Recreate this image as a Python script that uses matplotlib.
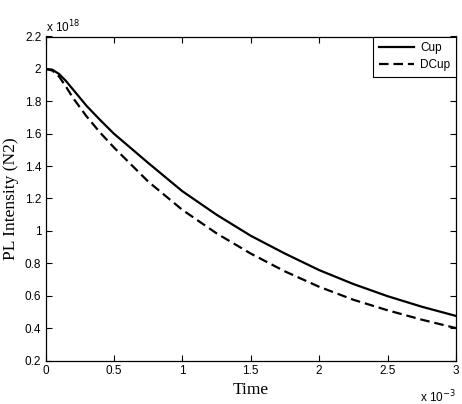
import matplotlib
matplotlib.use("Agg")
import matplotlib.pyplot as plt
from matplotlib.ticker import FuncFormatter

# Time (x 1e-3)
t_cup = [0, 0.05, 0.1, 0.15, 0.2, 0.3, 0.4, 0.5, 0.75, 1.0, 1.25, 1.5, 1.75, 2.0, 2.25, 2.5, 2.75, 3.0]
# PL Intensity (x 1e18)
cup = [2.0, 1.995, 1.968, 1.925, 1.874, 1.772, 1.684, 1.60, 1.42, 1.245, 1.10, 0.97, 0.86, 0.758, 0.672, 0.597, 0.532, 0.475]

t_dcup = [0, 0.05, 0.1, 0.15, 0.2, 0.3, 0.4, 0.5, 0.75, 1.0, 1.25, 1.5, 1.75, 2.0, 2.25, 2.5, 2.75, 3.0]
dcup = [2.0, 1.99, 1.952, 1.89, 1.822, 1.707, 1.606, 1.515, 1.305, 1.13, 0.985, 0.86, 0.75, 0.655, 0.575, 0.51, 0.452, 0.40]

xticks = [0, 0.5, 1, 1.5, 2, 2.5, 3]
yticks = [0.2, 0.4, 0.6, 0.8, 1.0, 1.2, 1.4, 1.6, 1.8, 2.0, 2.2]

W, H = 462, 404
fig = plt.figure(figsize=(W / 100, H / 100), dpi=100)
L, R, T, B = 45.5, 456, 36.5, 360.5
ax = fig.add_axes([L / W, 1 - B / H, (R - L) / W, (B - T) / H])

ax.plot(t_cup, cup, color="black", linewidth=1.6, linestyle="-", label="Cup")
ax.plot(t_dcup, dcup, color="black", linewidth=1.6, linestyle=(0, (4.3, 2.2)), label="DCup")

ax.set_xlim(0, 3)
ax.set_ylim(0.2, 2.2)
ax.set_xticks(xticks)
ax.set_yticks(yticks)

def fmt(v, pos):
    s = ("%.1f" % v)
    if s.endswith(".0"):
        s = s[:-2]
    return s

ax.xaxis.set_major_formatter(FuncFormatter(fmt))
ax.yaxis.set_major_formatter(FuncFormatter(fmt))

tickfont = "Liberation Sans"
ax.tick_params(direction="in", top=True, right=True, length=4, width=0.8,
               labelsize=8.5, pad=3)
for lab in ax.get_xticklabels() + ax.get_yticklabels():
    lab.set_fontfamily(tickfont)
for s in ax.spines.values():
    s.set_linewidth(0.9)

ax.set_xlabel("Time", fontfamily="Liberation Serif", fontsize=12.5, labelpad=4)
ax.set_ylabel("PL Intensity (N2)", fontfamily="Liberation Serif", fontsize=12.5, labelpad=4)

leg = ax.legend(loc="upper right", borderaxespad=0, fancybox=False, framealpha=1,
                edgecolor="black", prop={"family": tickfont, "size": 8.5},
                handlelength=3.0, handletextpad=0.5, borderpad=0.5, labelspacing=0.4)
leg.get_frame().set_linewidth(0.8)

fig.text(L / W, 1 - 32 / H, r"x 10$^{18}$", fontfamily=tickfont, fontsize=8.5,
         ha="left", va="baseline")
fig.text(R / W, 1 - 402 / H, r"x 10$^{-3}$", fontfamily=tickfont, fontsize=8.5,
         ha="right", va="baseline")

fig.savefig("out.png", dpi=100)
